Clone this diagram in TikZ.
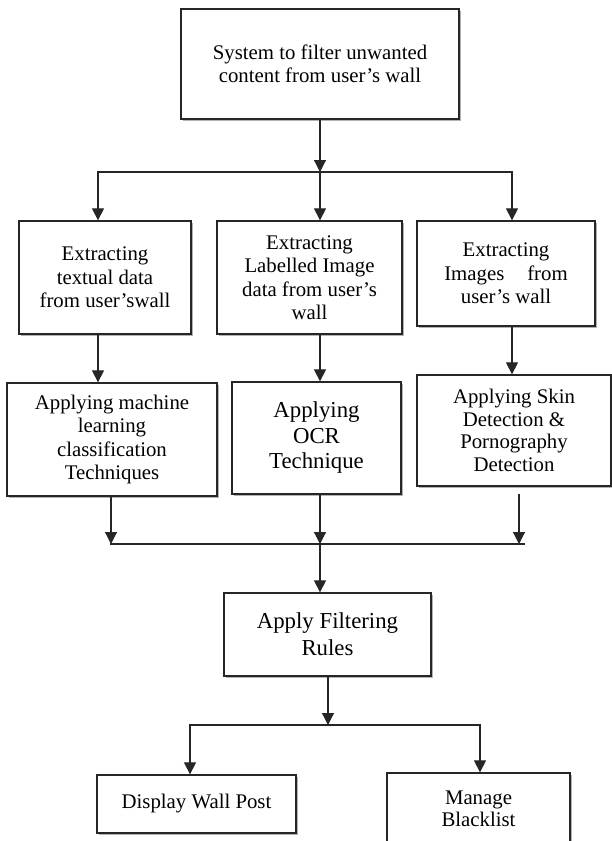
\documentclass[tikz,border=0pt]{standalone}
\usepackage{fontspec}
\setmainfont{Liberation Serif}
\usetikzlibrary{arrows.meta,shadows}
\begin{document}
\begin{tikzpicture}[x=1pt,y=-1pt,
  box/.style={draw=black!85, line width=1.3pt, fill=white, align=center, inner sep=0pt,
    drop shadow={shadow xshift=1.6pt, shadow yshift=-2pt, opacity=0.3, fill=black}},
  conn/.style={draw=black!85, line width=1.2pt, line cap=rect},
  arr/.style={draw=black!85, line width=1.2pt, -{Triangle[width=12pt,length=12pt]}},
  ftwenty/.style={font=\fontsize{20.8}{23.5}\selectfont},
  ftop/.style={font=\fontsize{20.8}{22.5}\selectfont},
  fbig/.style={font=\fontsize{22.8}{25.5}\selectfont}]
\useasboundingbox (0,0) rectangle (612,841);
\clip (0,0) rectangle (612,841);

% boxes
\node[box, ftop, minimum width=278pt, minimum height=110pt] (top) at (320,64)
  {System to filter unwanted\\content from user’s wall};

\node[box, ftwenty, minimum width=172pt, minimum height=113pt] (ext1) at (105,277.5)
  {Extracting\\textual data\\from user’swall};
\node[box, ftwenty, minimum width=185pt, minimum height=113pt] (ext2) at (309.5,277.5)
  {Extracting\\Labelled Image\\data from user’s\\wall};
\node[box, ftwenty, minimum width=178pt, minimum height=105pt] (ext3) at (506,273.5)
  {Extracting\\Images\hspace{1.1em}from\\user’s wall};

\node[box, ftwenty, minimum width=210pt, minimum height=113pt] (app1) at (112,439.5)
  {Applying machine\\learning\\classification\\Techniques};
\node[box, fbig, minimum width=169pt, minimum height=112pt] (app2) at (316.5,438)
  {Applying\\OCR\\Technique};
\node[box, font=\fontsize{20.8}{22.5}\selectfont, minimum width=194pt, minimum height=111pt] (app3) at (514,430.5)
  {Applying Skin\\Detection \&\\Pornography\\Detection};

\node[box, font=\fontsize{22.8}{27}\selectfont, minimum width=207pt, minimum height=83pt] (filt) at (327.5,634.5)
  {Apply Filtering\\Rules};

\node[box, ftwenty, minimum width=199pt, minimum height=58pt] (disp) at (196.5,804)
  {Display Wall Post};
\node[box, font=\fontsize{20.8}{22.5}\selectfont, minimum width=183pt, minimum height=72pt] (mgmt) at (478.5,809)
  {Manage\\Blacklist};

% junction coordinates
\coordinate (b1) at (98,172);
\coordinate (b2) at (320,172);
\coordinate (b3) at (512,172);
\coordinate (m1) at (111,544);
\coordinate (m2) at (320,544);
\coordinate (m3) at (519,544);
\coordinate (m3s) at (519,494);
\coordinate (m3e) at (524,544);
\coordinate (d0) at (328,725);
\coordinate (d1) at (190,725);
\coordinate (d2) at (480,725);

% connectors
\draw[arr] (top.south) -- (b2);
\draw[conn] (b1) -- (b3);
\draw[arr] (b1) -- (b1 |- ext1.north);
\draw[arr] (b2) -- (b2 |- ext2.north);
\draw[arr] (b3) -- (b3 |- ext3.north);

\draw[arr] (b1 |- ext1.south) -- (b1 |- app1.north);
\draw[arr] (b2 |- ext2.south) -- (b2 |- app2.north);
\draw[arr] (b3 |- ext3.south) -- (b3 |- app3.north);

\draw[arr] (m1 |- app1.south) -- (m1);
\draw[arr] (m2 |- app2.south) -- (m2);
\draw[arr] (m3s) -- (m3);
\draw[conn] (m1) -- (m3e);
\draw[arr] (m2) -- (m2 |- filt.north);

\draw[arr] (d0 |- filt.south) -- (d0);
\draw[conn] (d1) -- (d2);
\draw[arr] (d1) -- (d1 |- disp.north);
\draw[arr] (d2) -- (d2 |- mgmt.north);
\end{tikzpicture}
\end{document}
